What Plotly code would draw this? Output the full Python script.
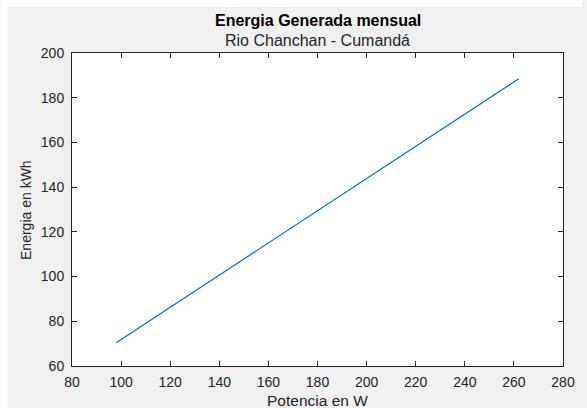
import plotly.graph_objects as go

# Data
potencia_w = [98, 140, 180, 220, 262]
energia_kwh = [70.4, 100.6, 129.5, 158.3, 188.5]

x_ticks = [80, 100, 120, 140, 160, 180, 200, 220, 240, 260, 280]
y_ticks = [60, 80, 100, 120, 140, 160, 180, 200]

title_text = "Energia Generada mensual"
subtitle_text = "Rio Chanchan - Cumandá"
x_title = "Potencia en W"
y_title = "Energia en kWh"

W, H = 587, 408
L, R, T, B = 72, 19, 53, 42
pw, ph = W - L - R, H - T - B

def px_x(p):
    return (p - L) / pw

def px_y(p):
    return (H - B - p) / ph

axis_col = "#262626"
font_fam = "Liberation Sans, Arial, Helvetica, sans-serif"

fig = go.Figure()
fig.add_trace(go.Scatter(
    x=potencia_w, y=energia_kwh, mode="lines",
    line=dict(color="#0072BD", width=1.2), showlegend=False,
))

axis_common = dict(
    showline=True, linecolor=axis_col, linewidth=1, mirror="allticks",
    ticks="inside", ticklen=5, tickcolor=axis_col, tickwidth=1,
    showgrid=False, zeroline=False,
    tickfont=dict(family=font_fam, size=14, color=axis_col),
)

fig.update_xaxes(range=[80, 280], tickvals=x_ticks, ticktext=[str(v) for v in x_ticks],
                 ticklabelstandoff=3, **axis_common)
fig.update_yaxes(range=[60, 200], tickvals=y_ticks, ticktext=[str(v) for v in y_ticks],
                 ticklabelstandoff=4, **axis_common)

annotations = [
    dict(text="<b>" + title_text + "</b>", x=0.5, y=px_y(20), xref="paper", yref="paper",
         showarrow=False, xanchor="center", yanchor="middle",
         font=dict(family=font_fam, size=16, color="#000000")),
    dict(text=subtitle_text, x=0.5, y=px_y(41), xref="paper", yref="paper",
         showarrow=False, xanchor="center", yanchor="middle",
         font=dict(family=font_fam, size=16, color="#262626")),
    dict(text=x_title, x=0.5, y=px_y(400), xref="paper", yref="paper",
         showarrow=False, xanchor="center", yanchor="middle",
         font=dict(family=font_fam, size=15.5, color="#262626")),
    dict(text=y_title, x=px_x(25), y=0.5, xref="paper", yref="paper",
         showarrow=False, xanchor="center", yanchor="middle", textangle=-90,
         font=dict(family=font_fam, size=14, color="#262626")),
]

shapes = [
    dict(type="rect", xref="paper", yref="paper", x0=px_x(0), x1=px_x(W), y0=px_y(7), y1=px_y(0),
         fillcolor="white", line=dict(width=0), layer="above"),
    dict(type="rect", xref="paper", yref="paper", x0=px_x(0), x1=px_x(7), y0=px_y(H), y1=px_y(0),
         fillcolor="white", line=dict(width=0), layer="above"),
]

fig.update_layout(
    width=W, height=H,
    margin=dict(l=L, r=R, t=T, b=B, pad=0),
    paper_bgcolor="#f0f0f0", plot_bgcolor="white",
    annotations=annotations, shapes=shapes,
    font=dict(family=font_fam),
)

fig.write_html("out.html", config={"displayModeBar": False})
